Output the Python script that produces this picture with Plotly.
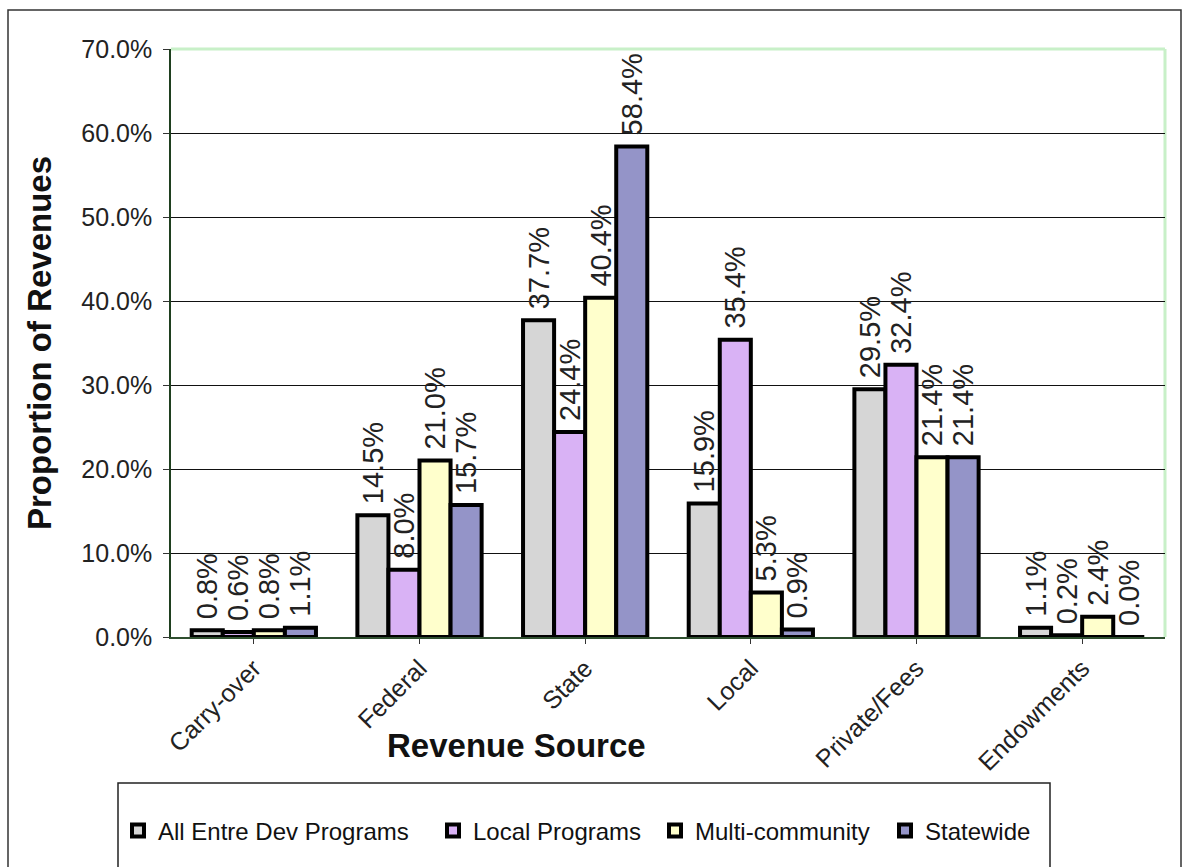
import plotly.graph_objects as go

categories = ["Carry-over", "Federal", "State", "Local", "Private/Fees", "Endowments"]
series_names = ["All Entre Dev Programs", "Local Programs", "Multi-community", "Statewide"]
all_entre = [0.8, 14.5, 37.7, 15.9, 29.5, 1.1]
local_prog = [0.6, 8.0, 24.4, 35.4, 32.4, 0.2]
multi_comm = [0.8, 21.0, 40.4, 5.3, 21.4, 2.4]
statewide = [1.1, 15.7, 58.4, 0.9, 21.4, 0.0]
y_ticks = [0, 10, 20, 30, 40, 50, 60, 70]

series_values = [all_entre, local_prog, multi_comm, statewide]
colors = ["#d6d6d6", "#d9b2f5", "#ffffcc", "#9494c8"]
legend_ids = ["legend", "legend2", "legend3", "legend4"]
legend_px = [118, 433, 655, 885]

FONT = "Liberation Sans, Arial, sans-serif"
L, R, T, B = 171, 17, 49, 230
W, H = 1182, 867
pw, ph = W - L - R, H - T - B

def px(x):
    return (x - L) / pw

def py(y):
    return (H - B - y) / ph

fig = go.Figure()
for name, vals, col, lg in zip(series_names, series_values, colors, legend_ids):
    fig.add_trace(go.Bar(
        x=categories, y=vals, name=name, legend=lg,
        marker=dict(color=col, line=dict(color="black", width=4)),
        text=[f"\u00a0{v:.1f}%" for v in vals],
        textposition="outside", textangle=-90,
        textfont=dict(family=FONT, size=29, color="#222"),
        constraintext="none", cliponaxis=False,
    ))

shapes = [
    dict(type="rect", xref="paper", yref="paper", x0=px(8), x1=px(1181), y0=py(880), y1=py(10),
         line=dict(color="#333", width=1.5), layer="below"),
    dict(type="line", xref="paper", yref="paper", x0=0, x1=1, y0=1, y1=1,
         line=dict(color="#c8f0c8", width=3), layer="below"),
    dict(type="line", xref="paper", yref="paper", x0=1, x1=1, y0=0, y1=1,
         line=dict(color="#c8f0c8", width=3), layer="below"),
    dict(type="rect", xref="paper", yref="paper", x0=px(118), x1=px(1050), y0=py(880), y1=py(783),
         line=dict(color="#222", width=1.5), fillcolor="white", layer="below"),
]

legend_common = dict(orientation="h", xanchor="left", yanchor="middle",
                     font=dict(family=FONT, size=24, color="#111"),
                     bgcolor="rgba(0,0,0,0)", itemwidth=30)
legends = {lg: dict(legend_common, x=px(xp), y=py(831)) for lg, xp in zip(legend_ids, legend_px)}

fig.update_layout(
    width=W, height=H,
    margin=dict(l=L, r=R, t=T, b=B),
    paper_bgcolor="white", plot_bgcolor="white",
    barmode="group", bargap=0.25, bargroupgap=0,
    font=dict(family=FONT, color="#222"),
    showlegend=True,
    shapes=shapes,
    annotations=[dict(text="<b>Revenue Source</b>", xref="paper", yref="paper",
                      x=px(516), y=py(745), xanchor="center", yanchor="middle",
                      showarrow=False, font=dict(family=FONT, size=33, color="#111"))],
    xaxis=dict(
        tickangle=-45, tickfont=dict(family=FONT, size=25, color="#222"),
        showline=True, linecolor="#2f4f2f", linewidth=1.5,
        ticks="outside", ticklen=5, tickcolor="#333",
        automargin=False,
    ),
    yaxis=dict(
        range=[0, 70], tickvals=y_ticks, ticktext=[f"{v:.1f}%" for v in y_ticks],
        tickfont=dict(family=FONT, size=25, color="#222"),
        ticklabelstandoff=6,
        showgrid=True, gridcolor="#111", gridwidth=1,
        showline=True, linecolor="#1f3f1f", linewidth=1.5,
        ticks="outside", ticklen=6, tickcolor="#333",
        zeroline=False,
        title=dict(text="<b>Proportion of Revenues</b>", font=dict(family=FONT, size=33, color="#111"), standoff=20),
        automargin=False,
    ),
    **legends,
)

fig.write_html("out.html")
